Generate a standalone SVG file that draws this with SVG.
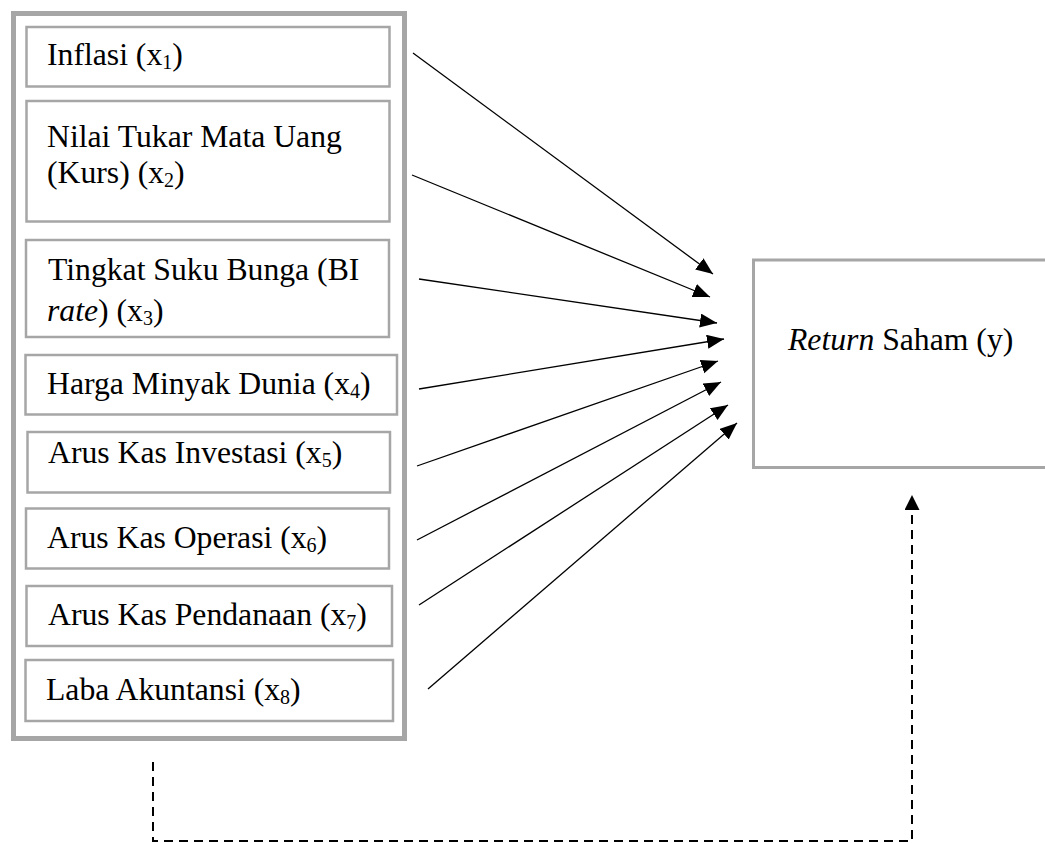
<svg xmlns="http://www.w3.org/2000/svg" width="1045" height="843" viewBox="0 0 1045 843">
<style>
.box{fill:#fff;stroke:#a6a6a6;stroke-width:2.5}
.outer{fill:#fff;stroke:#a6a6a6;stroke-width:5}
.ret{fill:#fff;stroke:#a6a6a6;stroke-width:3}
text{font-family:"Liberation Serif","Times New Roman",serif;font-size:31.7px;fill:#000}
.sub{font-size:20px}
.arr{stroke:#000;stroke-width:1.3;fill:none;marker-end:url(#ah)}
.dash{stroke:#000;stroke-width:2;fill:none;stroke-dasharray:9 6}
</style>
<defs>
<marker id="ah" markerUnits="userSpaceOnUse" markerWidth="19" markerHeight="16" refX="17" refY="7" orient="auto">
<path d="M0,0 L17,7 L0,14 z" fill="#000"/>
</marker>
<marker id="ah2" markerUnits="userSpaceOnUse" markerWidth="17" markerHeight="18" refX="15" refY="7.5" orient="auto">
<path d="M0,0 L15,7.5 L0,15 z" fill="#000"/>
</marker>
</defs>
<rect class="outer" x="13.5" y="13.5" width="391" height="725"/>
<g id="x1"><rect class="box" x="26.5" y="27" width="363" height="59.5"/><text x="47" y="65">Inflasi (x<tspan class="sub" dy="4">1</tspan><tspan dy="-4">)</tspan></text></g>
<g id="x2"><rect class="box" x="26.5" y="101" width="363" height="120.5"/><text x="47" y="147">Nilai Tukar Mata Uang</text><text x="47" y="183">(Kurs) (x<tspan class="sub" dy="4">2</tspan><tspan dy="-4">)</tspan></text></g>
<g id="x3"><rect class="box" x="26" y="240" width="363" height="97"/><text x="48" y="280">Tingkat Suku Bunga (BI</text><text x="47" y="321"><tspan font-style="italic">rate</tspan>) (x<tspan class="sub" dy="4">3</tspan><tspan dy="-4">)</tspan></text></g>
<g id="x4"><rect class="box" x="25.5" y="355" width="371.5" height="59.5"/><text x="47" y="394">Harga Minyak Dunia (x<tspan class="sub" dy="4">4</tspan><tspan dy="-4">)</tspan></text></g>
<g id="x5"><rect class="box" x="27.5" y="432" width="362.5" height="60.5"/><text x="48" y="463">Arus Kas Investasi (x<tspan class="sub" dy="4">5</tspan><tspan dy="-4">)</tspan></text></g>
<g id="x6"><rect class="box" x="26" y="508.5" width="363" height="60"/><text x="47" y="548">Arus Kas Operasi (x<tspan class="sub" dy="4">6</tspan><tspan dy="-4">)</tspan></text></g>
<g id="x7"><rect class="box" x="26.5" y="586" width="365.5" height="60"/><text x="48" y="625">Arus Kas Pendanaan (x<tspan class="sub" dy="4">7</tspan><tspan dy="-4">)</tspan></text></g>
<g id="x8"><rect class="box" x="25.5" y="660" width="367.5" height="61"/><text x="46" y="700">Laba Akuntansi (x<tspan class="sub" dy="4">8</tspan><tspan dy="-4">)</tspan></text></g>
<g id="y"><rect class="ret" x="753.5" y="260" width="300" height="207.5"/><text x="788" y="350"><tspan font-style="italic">Return</tspan> Saham (y)</text></g>
<g id="connectors">
<line class="arr" x1="413" y1="53" x2="713" y2="274"/>
<line class="arr" x1="412" y1="175" x2="710" y2="297"/>
<line class="arr" x1="419" y1="279" x2="717" y2="323"/>
<line class="arr" x1="419" y1="389" x2="724" y2="339"/>
<line class="arr" x1="417" y1="466" x2="718" y2="361"/>
<line class="arr" x1="417" y1="540" x2="721" y2="382"/>
<line class="arr" x1="419" y1="605" x2="728" y2="405"/>
<line class="arr" x1="428" y1="689" x2="737" y2="423"/>
<path class="dash" d="M153,762 V841 H912 V495" marker-end="url(#ah2)"/>
</g>
</svg>
